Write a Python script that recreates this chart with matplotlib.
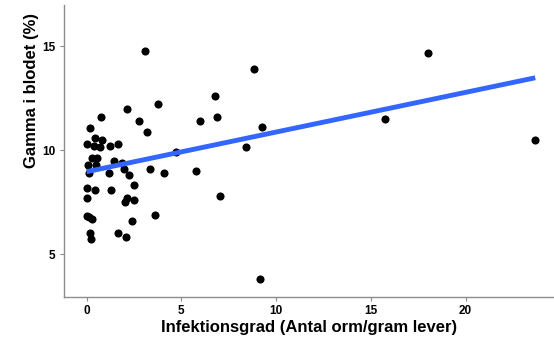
import numpy as np
import matplotlib
matplotlib.use("Agg")
import matplotlib.pyplot as plt

infektion = [3.09, 8.86, 6.80, 2.12, 3.76, 0.77, 5.99, 6.90, 2.77, 0.18,
             3.21, 0.47, 0.84, 0.01, 0.38, 0.73, 1.24, 1.66, 8.40, 9.28,
             0.31, 0.57, 0.08, 0.48, 1.47, 1.89, 4.72, 0.15, 1.19, 2.00,
             2.26, 3.37, 4.09, 5.76, 2.52, 0.00, 0.45, 1.29, 0.00, 2.14,
             2.05, 2.52, 7.03, 0.00, 0.15, 0.29, 3.63, 2.40, 0.17, 0.24,
             1.65, 2.08, 9.16, 18.04, 15.75, 23.68]
gamma = [14.79, 13.89, 12.60, 12.00, 12.21, 11.62, 11.41, 11.62, 11.41, 11.09,
         10.89, 10.61, 10.51, 10.30, 10.22, 10.14, 10.21, 10.30, 10.14, 11.10,
         9.62, 9.62, 9.31, 9.31, 9.50, 9.40, 9.93, 8.89, 8.89, 9.10,
         8.80, 9.10, 8.91, 9.00, 8.32, 8.20, 8.11, 8.11, 7.71, 7.72,
         7.50, 7.61, 7.82, 6.83, 6.78, 6.71, 6.90, 6.62, 6.02, 5.72,
         6.02, 5.82, 3.83, 14.69, 11.50, 10.49]
# smooth (trend) line end points
trend_x = [0.0, 23.68]
trend_y = [8.97, 13.49]
xticks = [0, 5, 10, 15, 20]
yticks = [5, 10, 15]

plt.rcParams['font.family'] = ['Liberation Sans', 'DejaVu Sans']

fig = plt.figure(figsize=(5.54, 3.38), dpi=100)
ax = fig.add_axes([64/554, 1 - 296.7/338, 1 - 64/554, (296.7 - 5)/338])

ax.scatter(infektion, gamma, s=34, color='black', zorder=2, linewidths=0)
ax.plot(trend_x, trend_y, color='#3366FF', lw=3.5, solid_capstyle='butt', zorder=3)

ax.set_xlim(-1.19, 24.67)
ax.set_ylim(2.96, 16.99)
ax.set_xticks(xticks)
ax.set_yticks(yticks)
ax.set_xticklabels([str(t) for t in xticks], fontsize=8.5, fontweight='bold')
ax.set_yticklabels([str(t) for t in yticks], fontsize=8.5, fontweight='bold')
for s in ['top', 'right']:
    ax.spines[s].set_visible(False)
for s in ['left', 'bottom']:
    ax.spines[s].set_color('#8c8c8c')
    ax.spines[s].set_linewidth(1.0)
ax.tick_params(axis='both', colors='#8c8c8c', length=3, width=0.8, labelcolor='black', pad=3)
ax.set_xlabel('Infektionsgrad (Antal orm/gram lever)', fontsize=12, fontweight='bold', labelpad=2)
fig.text(31.5/554, 1 - 90.5/338, 'Gamma i blodet (%)', rotation=90, ha='center', va='center',
         fontsize=12, fontweight='bold')

fig.savefig('out.png', dpi=100)
